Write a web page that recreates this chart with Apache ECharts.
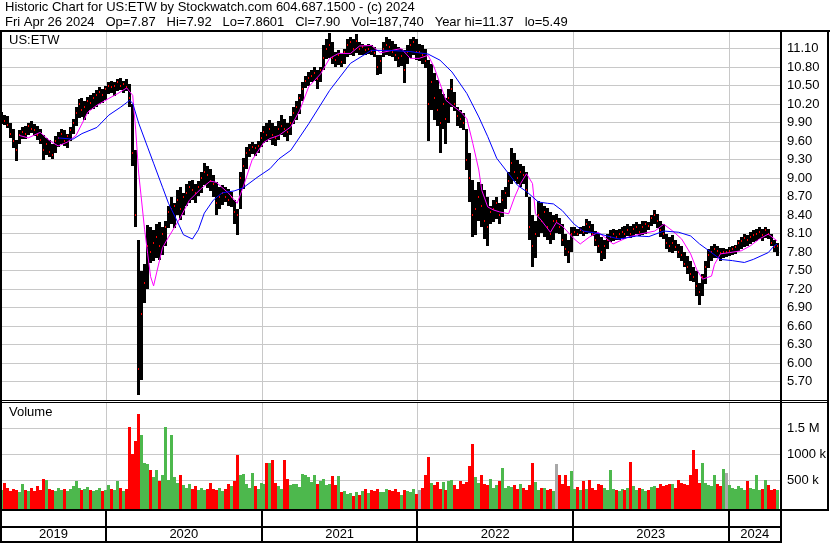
<!DOCTYPE html>
<html><head><meta charset="utf-8">
<script src="https://cdn.jsdelivr.net/npm/echarts@6/dist/echarts.min.js"></script>
<style>html,body{margin:0;padding:0;background:#fff}#c{width:830px;height:543px}</style>
</head><body><div id="c"></div>
<script>
const FONT = '"Liberation Sans", Arial, sans-serif';
const headerLine1 = 'Historic Chart for US:ETW by Stockwatch.com 604.687.1500 - (c) 2024';
const headerLine2 = 'Fri Apr 26 2024   Op=7.87   Hi=7.92   Lo=7.8601   Cl=7.90   Vol=187,740   Year hi=11.37   lo=5.49';
const symbolLabel = 'US:ETW';
const volumeLabel = 'Volume';
const yearLabels = [2019, 2020, 2021, 2022, 2023, 2024];
const volumeTickLabels = {500000: '500 k', 1000000: '1000 k', 1500000: '1.5 M'};

// weekly bars (weeks starting Wed 2019-05-01)
const weeklyHigh = [
10.07,10.02,10.00,9.90,9.80,9.62,9.78,9.82,9.85,9.90,
9.92,9.88,9.85,9.80,9.70,9.65,9.62,9.55,9.68,9.75,
9.80,9.78,9.72,9.82,9.95,10.15,10.28,10.30,10.25,10.32,
10.35,10.38,10.42,10.48,10.45,10.50,10.55,10.58,10.55,10.60,
10.62,10.58,10.60,10.52,10.20,9.45,8.00,7.50,7.60,8.24,
8.20,8.15,8.25,8.29,8.20,8.30,8.55,8.69,8.60,8.80,
8.85,8.75,8.90,8.95,8.97,8.90,8.95,9.10,9.25,9.20,
9.15,9.05,8.93,8.85,8.88,8.85,8.82,8.78,8.64,8.50,
9.10,9.32,9.50,9.55,9.58,9.55,9.60,9.75,9.85,9.90,
9.94,9.90,9.85,9.92,10.02,9.95,9.90,10.00,10.15,10.25,
10.37,10.55,10.65,10.72,10.75,10.80,10.75,10.80,11.15,11.25,
11.35,11.20,11.05,11.07,11.02,11.10,11.25,11.29,11.25,11.33,
11.20,11.18,11.15,11.18,11.16,11.12,10.99,11.00,11.20,11.29,
11.25,11.22,11.18,11.12,11.10,11.07,11.15,11.25,11.29,11.25,
11.18,11.15,11.10,10.91,10.85,10.70,10.59,10.45,10.37,10.30,
10.45,10.61,10.40,10.15,10.10,10.05,9.80,9.40,8.97,8.80,
8.94,8.90,8.80,8.70,8.55,8.65,8.70,8.60,8.80,8.86,
9.10,9.49,9.40,9.30,9.23,9.20,9.10,8.70,8.40,8.30,
8.63,8.59,8.55,8.52,8.45,8.40,8.41,8.35,8.25,8.10,
8.00,8.20,8.20,8.18,8.20,8.22,8.33,8.30,8.25,8.14,
8.10,8.05,8.00,8.10,8.15,8.17,8.15,8.18,8.20,8.22,
8.25,8.22,8.26,8.28,8.25,8.30,8.31,8.28,8.40,8.48,
8.42,8.31,8.25,8.09,8.05,8.08,8.00,7.93,7.90,7.80,
7.74,7.65,7.55,7.50,7.30,7.45,7.66,7.85,7.90,7.93,
7.90,7.87,7.87,7.85,7.88,7.90,7.92,8.00,8.05,8.09,
8.08,8.12,8.15,8.18,8.20,8.18,8.20,8.17,8.10,8.00,
7.95];
const weeklyLow = [
9.88,9.85,9.80,9.65,9.50,9.28,9.55,9.62,9.64,9.70,
9.72,9.68,9.62,9.55,9.30,9.38,9.35,9.30,9.40,9.50,
9.55,9.52,9.50,9.60,9.70,9.85,9.98,10.00,9.95,10.05,
10.10,10.12,10.15,10.20,10.22,10.28,10.35,10.38,10.32,10.40,
10.42,10.38,10.40,10.15,9.20,8.20,5.49,5.73,6.97,7.20,
7.62,7.65,7.70,7.67,7.75,7.90,8.20,8.25,8.20,8.40,
8.32,8.40,8.55,8.60,8.65,8.60,8.70,8.76,8.90,8.85,
8.80,8.70,8.40,8.50,8.55,8.60,8.55,8.53,8.25,8.08,
8.50,8.81,9.15,9.34,9.38,9.35,9.40,9.50,9.57,9.60,
9.62,9.55,9.53,9.62,9.70,9.65,9.61,9.70,9.88,9.95,
10.05,10.25,10.45,10.50,10.55,10.58,10.45,10.55,10.75,10.92,
10.95,10.85,10.80,10.82,10.80,10.85,10.96,11.00,10.98,11.02,
10.99,11.00,10.99,11.02,11.00,10.95,10.67,10.70,10.96,11.00,
10.98,10.96,10.90,10.80,10.82,10.53,10.85,10.95,11.00,10.91,
10.90,10.85,10.80,9.59,10.10,9.94,9.85,9.42,9.80,9.56,
9.90,10.15,10.10,9.85,9.80,9.78,9.13,8.60,8.05,8.07,
8.30,8.20,8.00,7.91,8.26,8.30,8.35,8.26,8.37,8.50,
8.70,8.91,8.95,8.91,8.86,8.90,8.70,8.00,7.55,7.70,
8.05,8.10,8.04,8.00,7.93,8.00,8.10,8.09,7.90,7.75,
7.63,7.80,8.06,8.06,8.08,8.06,8.09,8.10,8.05,7.90,
7.80,7.66,7.70,7.85,7.95,7.98,7.98,8.00,8.02,8.01,
8.05,8.02,8.05,8.08,8.05,8.08,8.10,8.15,8.22,8.25,
8.20,8.05,8.01,7.85,7.80,7.79,7.82,7.70,7.66,7.55,
7.45,7.33,7.30,7.10,6.94,7.10,7.28,7.55,7.66,7.70,
7.70,7.66,7.71,7.72,7.74,7.75,7.78,7.82,7.85,7.88,
7.90,7.92,7.95,7.98,8.00,7.98,8.02,8.00,7.90,7.80,
7.74];
const weeklyClose = [
9.98,9.92,9.86,9.72,9.60,9.45,9.70,9.75,9.72,9.85,
9.80,9.78,9.70,9.62,9.45,9.55,9.42,9.38,9.60,9.65,
9.72,9.60,9.68,9.78,9.90,10.05,10.20,10.10,10.15,10.25,
10.22,10.30,10.35,10.40,10.35,10.45,10.50,10.48,10.50,10.55,
10.50,10.52,10.48,10.30,9.40,8.40,5.90,6.80,7.30,7.90,
7.80,7.95,8.05,7.90,8.10,8.20,8.45,8.50,8.55,8.65,
8.50,8.70,8.75,8.85,8.80,8.75,8.85,9.00,9.10,9.05,
8.95,8.90,8.60,8.70,8.75,8.70,8.65,8.70,8.45,8.40,
9.00,9.20,9.40,9.45,9.50,9.48,9.52,9.65,9.75,9.70,
9.80,9.70,9.65,9.80,9.85,9.80,9.75,9.90,10.05,10.15,
10.30,10.45,10.58,10.62,10.65,10.70,10.60,10.75,10.95,11.10,
11.15,10.95,10.92,11.00,10.88,11.05,11.15,11.20,11.10,11.22,
11.10,11.12,11.08,11.10,11.06,11.02,10.80,10.90,11.10,11.15,
11.12,11.05,11.00,10.95,10.98,10.75,11.05,11.15,11.20,11.05,
11.05,11.00,10.90,10.20,10.55,10.30,10.10,9.90,10.20,9.95,
10.30,10.45,10.20,10.00,9.95,9.90,9.30,9.00,8.40,8.50,
8.70,8.55,8.30,8.20,8.45,8.50,8.60,8.40,8.65,8.75,
8.95,9.25,9.10,9.00,9.10,9.05,8.80,8.20,7.90,8.10,
8.40,8.30,8.45,8.20,8.10,8.30,8.30,8.20,8.00,7.85,
7.80,8.10,8.12,8.10,8.15,8.12,8.25,8.20,8.10,8.00,
7.90,7.80,7.90,8.00,8.05,8.10,8.05,8.10,8.12,8.10,
8.15,8.10,8.18,8.20,8.12,8.20,8.25,8.22,8.35,8.40,
8.30,8.15,8.10,7.95,7.90,7.95,7.88,7.80,7.75,7.60,
7.55,7.45,7.40,7.25,7.15,7.40,7.55,7.75,7.80,7.85,
7.82,7.78,7.80,7.80,7.82,7.85,7.88,7.95,7.98,8.02,
8.00,8.05,8.08,8.10,8.12,8.08,8.15,8.10,7.95,7.88,
7.90];
// volume in thousands
const weeklyVolumeK = [
300,450,350,280,330,300,260,420,300,280,
340,290,380,300,520,500,320,300,280,350,
300,330,290,320,380,480,350,300,330,360,
300,280,310,340,290,300,400,330,300,480,
350,290,330,1520,1000,1250,1770,1370,820,800,
700,550,700,480,600,1520,500,1370,550,450,
600,400,350,420,330,380,300,350,300,330,
440,320,300,350,280,330,420,380,480,990,
600,620,420,350,640,380,330,450,420,830,
830,890,450,380,330,890,520,400,430,420,
360,620,600,560,470,600,420,480,520,400,
430,580,400,580,260,280,230,250,200,260,
210,280,330,250,300,280,330,270,260,330,
300,280,330,260,220,300,280,260,330,240,
300,340,600,935,440,400,460,330,460,300,
480,500,400,330,490,420,470,775,1200,560,
450,600,420,400,520,350,400,480,740,350,
380,360,400,330,420,350,300,400,830,470,
300,340,350,300,320,280,815,600,420,600,
380,680,330,360,300,480,330,500,340,300,
420,400,340,300,690,330,300,280,320,300,
340,850,380,300,340,320,280,300,360,380,
340,420,380,400,420,420,350,500,450,420,
400,600,1080,720,450,830,450,400,380,600,
420,380,720,630,400,350,330,380,350,300,
480,350,330,600,300,320,500,400,300,330,
300];

const fastMaWeek = [6,9,13,16,19,22,25,29,32,36,39,42,44,45,46,48,49,50,51,52,54,56,60,63,67,70,72,76,79,81,84,88,90,93,97,100,103,107,110,113,117,120,124,127,130,134,137,140,143,145,147,149,151,154,156,158,160,161,163,165,167,170,172,174,176,178,179,181,184,186,188,192,194,197,200,203,205,210,214,219,222,225,228,231,233,235,238,239,241,244,248,251,254,257,260];
const fastMaValue = [9.69,9.65,9.74,9.61,9.52,9.58,9.69,10.07,10.18,10.29,10.37,10.46,10.34,9.78,9.08,8.16,7.78,7.40,7.25,7.46,7.87,8.04,8.36,8.64,8.83,8.95,8.93,8.76,8.59,8.85,9.29,9.58,9.64,9.69,9.83,10.10,10.48,10.69,10.94,11.02,11.02,11.14,11.15,11.03,11.06,11.10,10.94,10.94,10.99,10.80,10.53,10.26,10.18,10.07,9.96,9.56,9.13,8.80,8.53,8.48,8.45,8.42,8.69,8.91,9.07,8.91,8.42,8.31,8.12,8.28,8.22,8.01,7.93,8.04,8.12,8.01,7.93,8.04,8.09,8.14,8.25,8.14,8.01,7.77,7.52,7.36,7.41,7.60,7.77,7.79,7.82,7.90,8.01,8.09,7.98];
const slowMaWeek = [19,24,27,32,36,40,43,44,46,49,51,54,56,59,61,64,66,68,71,74,78,81,86,90,93,97,103,110,117,124,130,137,143,147,151,156,160,163,166,170,173,176,180,183,185,188,192,195,200,203,207,213,217,222,227,231,234,238,241,245,249,252,257,259,260];
const slowMaValue = [9.65,9.63,9.72,9.82,10.02,10.15,10.26,10.21,9.89,9.50,9.24,8.85,8.59,8.29,8.08,8.01,8.16,8.43,8.64,8.76,8.79,8.84,9.02,9.15,9.31,9.45,9.88,10.42,10.86,11.07,11.07,11.05,11.01,10.91,10.72,10.37,9.99,9.67,9.32,9.07,8.88,8.78,8.61,8.59,8.58,8.47,8.25,8.14,8.10,8.06,8.01,8.06,8.05,8.14,8.12,8.06,7.93,7.79,7.68,7.66,7.63,7.68,7.79,7.90,7.93];

const DAY = 86400000;
const firstWeek = Date.UTC(2019, 4, 1);
const axisStart = Date.UTC(2019, 3, 30);
const axisEnd = Date.UTC(2024, 4, 3);
const weekTime = i => firstWeek + i * 7 * DAY;

const RED = '#ff0000', GREEN = '#4db84d', GRAY = '#a8a8a8', GRID = '#c8c8c8';

const priceData = weeklyHigh.map((h, i) => [weekTime(i), h, weeklyLow[i], weeklyClose[i]]);
const volumeData = weeklyVolumeK.map((v, i) => [weekTime(i), v * 1000]);
const volumeColor = weeklyClose.map((c, i) => i === 0 ? GREEN : (c > weeklyClose[i-1] ? GREEN : (c < weeklyClose[i-1] ? RED : GRAY)));
const fastMa = fastMaWeek.map((w, i) => [weekTime(w), fastMaValue[i]]);
const slowMa = slowMaWeek.map((w, i) => [weekTime(w), slowMaValue[i]]);
const yearBoundaries = yearLabels.slice(1).map(y => [Date.UTC(y, 0, 1)]);
const yearBands = yearLabels.map(y => [Date.UTC(y, 0, 1), Date.UTC(y + 1, 0, 1)]);

const txt = {fontSize: 13, fontWeight: 'normal', fontFamily: FONT, color: '#000'};

function gridLineItem(params, api) {
  const cs = params.coordSys;
  const x = Math.round(api.coord([api.value(0), 0])[0]) + 0.5;
  return {type: 'line', shape: {x1: x, y1: cs.y, x2: x, y2: cs.y + cs.height},
          style: {stroke: GRID, lineWidth: 1}};
}

const chart = echarts.init(document.getElementById('c'), null, {renderer: 'canvas'});
chart.setOption({
  animation: false,
  backgroundColor: '#fff',
  title: [
    {text: headerLine1, left: 5, top: 1, padding: 0, textStyle: txt},
    {text: headerLine2, left: 5, top: 16, padding: 0, textStyle: txt},
    {text: symbolLabel, left: 9, top: 34, padding: 0, textStyle: txt},
    {text: volumeLabel, left: 9, top: 406, padding: 0, textStyle: txt}
  ],
  grid: [
    {left: 1, top: 30, width: 780, height: 370},
    {left: 1, top: 402, width: 780, height: 104},
    {left: 1, top: 510, width: 780, height: 32}
  ],
  xAxis: [0, 1, 2].map(g => ({type: 'time', gridIndex: g, min: axisStart, max: axisEnd, show: false})),
  yAxis: [
    {type: 'value', gridIndex: 0, position: 'right', min: 5.4, max: 11.4, interval: 0.3,
     axisLine: {show: false}, axisTick: {show: false},
     axisLabel: {formatter: v => v.toFixed(2), showMinLabel: false, showMaxLabel: false,
                 margin: 6, fontSize: 13, fontFamily: FONT, color: '#000'},
     splitLine: {show: true, showMinLine: false, showMaxLine: false, lineStyle: {color: GRID, width: 1}}},
    {type: 'value', gridIndex: 1, position: 'right', min: 0, max: 2000000, interval: 500000,
     axisLine: {show: false}, axisTick: {show: false},
     axisLabel: {formatter: v => volumeTickLabels[v] || '', margin: 6, fontSize: 13, fontFamily: FONT, color: '#000'},
     splitLine: {show: true, showMinLine: false, showMaxLine: false, lineStyle: {color: GRID, width: 1}}},
    {type: 'value', gridIndex: 2, min: 0, max: 1, show: false}
  ],
  series: [
    {type: 'custom', name: 'yearGridPrice', xAxisIndex: 0, yAxisIndex: 0, z: 1, silent: true,
     data: yearBoundaries, encode: {x: 0}, renderItem: gridLineItem},
    {type: 'custom', name: 'ETW', xAxisIndex: 0, yAxisIndex: 0, z: 2, silent: true,
     data: priceData, encode: {x: 0, y: [1, 2, 3]},
     renderItem: (params, api) => {
       const t = api.value(0);
       const h = api.coord([t, api.value(1)]);
       const l = api.coord([t, api.value(2)]);
       const c = api.coord([t, api.value(3)]);
       const x = Math.round(h[0] - 1.5);
       return {type: 'group', children: [
         {type: 'rect', shape: {x: x, y: Math.round(h[1]), width: 3, height: Math.max(1, Math.round(l[1] - h[1]))}, style: {fill: '#000'}},
         {type: 'rect', shape: {x: x + 1, y: Math.round(c[1]) - 1, width: 1, height: 2}, style: {fill: RED}}
       ]};
     }},
    {type: 'line', name: 'MA fast', xAxisIndex: 0, yAxisIndex: 0, z: 3, data: fastMa,
     showSymbol: false, symbol: 'none', silent: true, lineStyle: {color: '#ff00ff', width: 1}, itemStyle: {color: '#ff00ff'}},
    {type: 'line', name: 'MA slow', xAxisIndex: 0, yAxisIndex: 0, z: 3, data: slowMa,
     showSymbol: false, symbol: 'none', silent: true, lineStyle: {color: '#0000ff', width: 1}, itemStyle: {color: '#0000ff'}},
    {type: 'custom', name: 'yearGridVolume', xAxisIndex: 1, yAxisIndex: 1, z: 1, silent: true,
     data: yearBoundaries, encode: {x: 0}, renderItem: gridLineItem},
    {type: 'custom', name: 'Volume', xAxisIndex: 1, yAxisIndex: 1, z: 2, silent: true,
     data: volumeData, encode: {x: 0, y: 1},
     renderItem: (params, api) => {
       const t = api.value(0);
       const top = api.coord([t, api.value(1)]);
       const base = api.coord([t, 0]);
       const x = Math.round(top[0] - 1.5);
       const y = Math.round(top[1]);
       return {type: 'rect', shape: {x: x, y: y, width: 3, height: Math.round(base[1]) + 3 - y},
               style: {fill: volumeColor[params.dataIndex]}};
     }},
    {type: 'custom', name: 'years', xAxisIndex: 2, yAxisIndex: 2, z: 5, silent: true,
     data: yearBands, encode: {x: [0, 1]},
     renderItem: (params, api) => {
       const cs = params.coordSys;
       const x0 = Math.max(api.coord([api.value(0), 0])[0], cs.x);
       const x1 = Math.min(api.coord([api.value(1), 0])[0], cs.x + cs.width);
       const children = [
         {type: 'text', x: (x0 + x1) / 2, y: cs.y + 24,
          style: {text: String(yearLabels[params.dataIndex]), align: 'center', verticalAlign: 'middle',
                  fill: '#000', font: '13px ' + FONT}}
       ];
       if (x0 > cs.x + 2) {
         children.push({type: 'rect', shape: {x: Math.round(x0) - 1, y: cs.y, width: 2, height: cs.height}, style: {fill: '#000'}});
       }
       return {type: 'group', children};
     }}
  ],
  graphic: [
    {type: 'rect', shape: {x: 0, y: 30, width: 830, height: 2}, style: {fill: '#000'}, z: 100},
    {type: 'rect', shape: {x: 0, y: 30, width: 2, height: 513}, style: {fill: '#000'}, z: 100},
    {type: 'rect', shape: {x: 780, y: 30, width: 2, height: 513}, style: {fill: '#000'}, z: 100},
    {type: 'rect', shape: {x: 827, y: 30, width: 2, height: 481}, style: {fill: '#000'}, z: 100},
    {type: 'rect', shape: {x: 0, y: 400, width: 829, height: 1}, style: {fill: '#000'}, z: 100},
    {type: 'rect', shape: {x: 0, y: 402, width: 829, height: 1}, style: {fill: '#000'}, z: 100},
    {type: 'rect', shape: {x: 0, y: 509, width: 829, height: 2}, style: {fill: '#000'}, z: 100},
    {type: 'rect', shape: {x: 0, y: 526, width: 782, height: 2}, style: {fill: '#000'}, z: 100},
    {type: 'rect', shape: {x: 0, y: 541, width: 782, height: 2}, style: {fill: '#000'}, z: 100}
  ]
});
</script></body></html>
